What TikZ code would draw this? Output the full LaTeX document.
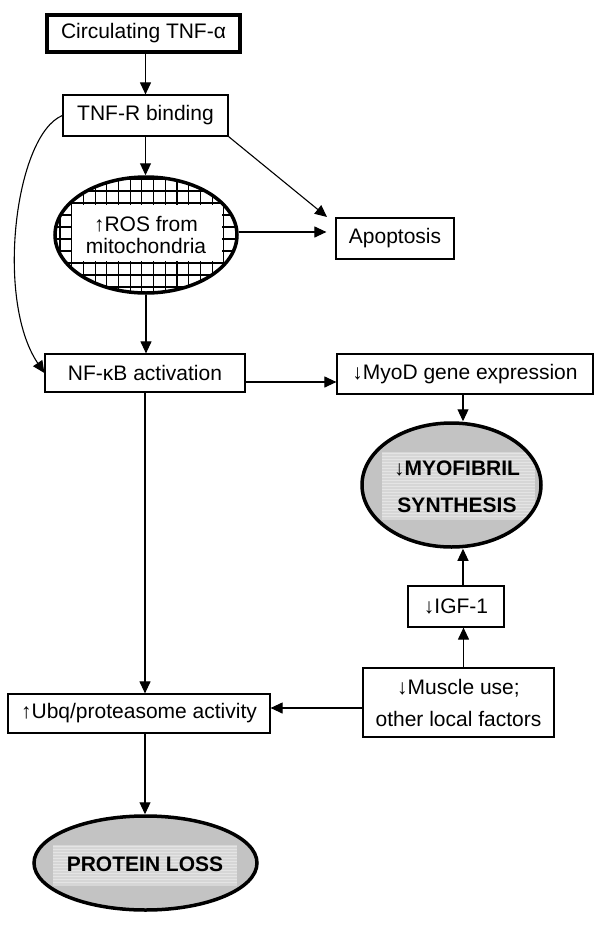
\documentclass[tikz,border=0pt]{standalone}
\usepackage{fontspec}
\setmainfont{Liberation Sans}
\usetikzlibrary{arrows.meta,shapes.geometric}
\definecolor{ellgray}{RGB}{195,195,195}
\definecolor{ingray}{RGB}{214,214,214}
\definecolor{stripegray}{RGB}{228,228,228}
\begin{document}
\begin{tikzpicture}[x=1pt,y=-1pt,
  every node/.style={font=\fontsize{21}{22}\selectfont},
  box/.style={draw, line width=1.2pt, inner sep=0pt, align=center},
  arr/.style={line width=1.1pt, -{Triangle[length=12pt,width=11pt]}},
  gridline/.style={line width=1.1pt},
  stripe/.style={stripegray, line width=0.6pt},
  ellnode/.style={draw, ellipse, line width=3.5pt, inner sep=0pt},
  bigtext/.style={font=\fontsize{21}{37}\selectfont\bfseries, align=center}]
\path[use as bounding box] (0,0) rectangle (600,927);

% boxes
\node[box, line width=4pt, minimum width=193pt, minimum height=37pt] (tnf) at (143.5,33.5) {Circulating TNF-α};
\node[box, minimum width=165pt, minimum height=41pt] (tnfr) at (145.5,115.5) {TNF-R binding};
\node[box, minimum width=118pt, minimum height=41pt] (apop) at (395,238.5) {Apoptosis};
\node[box, minimum width=200pt, minimum height=38pt] (nfkb) at (145,373) {NF-κB activation};
\node[box, minimum width=256pt, minimum height=40pt] (myod) at (465,374) {↓MyoD gene expression};
\node[box, minimum width=96pt, minimum height=41pt] (igf) at (456,606.5) {↓IGF-1};
\node[box, minimum width=191pt, minimum height=69pt, font=\fontsize{21}{32}\selectfont] (muscle) at (458.5,702.5) {↓Muscle use;\\other local factors};
\node[box, minimum width=262pt, minimum height=39pt] (ubq) at (139,713.5) {↑Ubq/proteasome activity};

% ROS ellipse with cross-hatching
\begin{scope}
  \clip (146,235) ellipse [x radius=91, y radius=58];
  \foreach \k in {0,...,16} \draw[gridline] ({60+11.7*\k},170) -- ({60+11.7*\k},300);
  \foreach \gy in {179,191,...,291} \draw[gridline] (50,\gy) -- (245,\gy);
  \fill[white] (72,205) rectangle (222,261);
\end{scope}
\node[ellnode, minimum width=182pt, minimum height=116pt, align=center] (ros) at (146,235) {↑ROS from\\mitochondria};

% MYOFIBRIL SYNTHESIS ellipse
\fill[ellgray] (451.5,485) ellipse [x radius=89.5, y radius=62];
\begin{scope}
  \clip (451.5,485) ellipse [x radius=89.5, y radius=62];
  \fill[ingray] (382,452) rectangle (535,520);
  \foreach \s in {453.5,456.5,...,519} \draw[stripe] (382,\s) -- (535,\s);
\end{scope}
\node[ellnode, minimum width=179pt, minimum height=124pt] (myo) at (451.5,485) {};
\node[bigtext] (myotxt) at (457,487) {↓MYOFIBRIL\\SYNTHESIS};

% PROTEIN LOSS ellipse
\fill[ellgray] (145.5,863) ellipse [x radius=111.5, y radius=47];
\begin{scope}
  \clip (145.5,863) ellipse [x radius=111.5, y radius=47];
  \fill[ingray] (53,845) rectangle (237,886);
  \foreach \s in {846.5,849.5,...,885} \draw[stripe] (53,\s) -- (237,\s);
\end{scope}
\node[ellnode, minimum width=223pt, minimum height=94pt] (ploss) at (145.5,863) {};
\node[bigtext] (plosstxt) at (145,864) {PROTEIN LOSS};

% connectors
\coordinate (apoptip) at (327,217);
\draw[arr] (tnfr.north |- tnf.south) -- (tnfr.north);
\draw[arr] (tnfr.south) -- (tnfr.south |- ros.north);
\draw[arr] (tnfr.south east) -- (apoptip);
\draw[arr, shorten >=9pt] ([yshift=3pt]ros.east) -- ([yshift=3pt]ros.east -| apop.west);
\draw[arr] (ros.south) -- (ros.south |- nfkb.north);
\draw[arr] (tnfr.west) .. controls (15,135) and (-5,300) .. (nfkb.west);
\draw[arr] ([yshift=-9pt]nfkb.east) -- ([yshift=-9pt]nfkb.east -| myod.west);
\draw[arr] ([xshift=-2pt]myod.south) -- ([xshift=-2pt]myod.south |- myo.north);
\draw[arr] ([xshift=7pt]igf.north) -- ([xshift=7pt]igf.north |- myo.south);
\draw[arr] ([xshift=5pt]muscle.north) -- ([xshift=5pt]muscle.north |- igf.south);
\draw[arr] ([yshift=-5.5pt]muscle.west) -- ([yshift=-5.5pt]muscle.west -| ubq.east);
\draw[arr] (nfkb.south) -- (nfkb.south |- ubq.north);
\draw[arr] (nfkb.south |- ubq.south) -- (nfkb.south |- ploss.north);
\end{tikzpicture}
\end{document}
